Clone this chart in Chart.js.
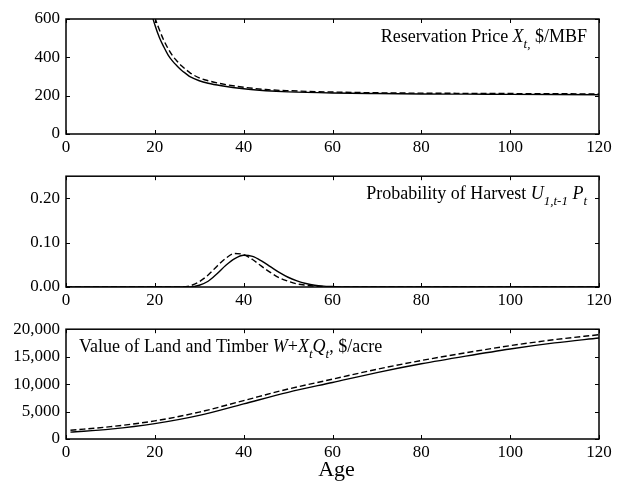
<!DOCTYPE html>
<html>
<head>
<meta charset="utf-8">
<script src="https://cdn.jsdelivr.net/npm/chart.js@4.4.1/dist/chart.umd.min.js"></script>
<style>
  body { margin: 0; background: #fff; }
  #wrap { position: relative; width: 618px; height: 483px; }
  canvas { position: absolute; left: 0; }
  #ageLabel {
    position: absolute; left: 70px; width: 533px; top: 456px;
    text-align: center; font: 22px "Liberation Serif", serif; line-height: 26px;
  }
</style>
</head>
<body>
<div id="wrap">
  <canvas id="c1" width="618" height="160" style="top:0"></canvas>
  <canvas id="c2" width="618" height="153" style="top:160px"></canvas>
  <canvas id="c3" width="618" height="152" style="top:313px"></canvas>
  <div id="ageLabel">Age</div>
</div>
<script>
// Reservation price X_t ($/MBF)
const priceAges   = [17, 18, 19, 20, 21, 22, 23, 24, 25, 26, 27, 28, 30, 32, 35, 40, 45, 50, 60, 70, 80, 90, 100, 110, 120];
const priceSolid  = [860, 740, 650, 570, 505, 455, 412, 380, 355, 333, 315, 298, 278, 265, 252, 236, 226, 220, 214, 211, 209, 208, 207, 206, 205];
const priceDashed = [930, 800, 700, 610, 545, 490, 445, 408, 380, 356, 336, 318, 293, 278, 262, 244, 232, 226, 219, 215, 213, 212, 211, 210, 209];

// Probability of harvest
const probAges   = [0, 24, 26, 28, 30, 32, 34, 36, 38, 40, 42, 44, 46, 48, 50, 52, 54, 56, 58, 60, 62, 70, 120];
const probSolid  = [0, 0, 0, 0, 0.004, 0.013, 0.030, 0.049, 0.064, 0.0715, 0.069, 0.059, 0.046, 0.033, 0.022, 0.014, 0.008, 0.004, 0.002, 0.001, 0, 0, 0];
const probDashed = [0, 0, 0, 0.003, 0.012, 0.027, 0.047, 0.065, 0.0755, 0.073, 0.062, 0.047, 0.033, 0.021, 0.013, 0.007, 0.004, 0.002, 0.001, 0, 0, 0, 0];

// Value of land and timber ($/acre)
const valueAges   = [1, 10, 20, 30, 40, 50, 60, 70, 80, 90, 100, 110, 120];
const valueSolid  = [1250, 1800, 2800, 4300, 6400, 8500, 10300, 12100, 13700, 15100, 16400, 17500, 18400];
const valueDashed = [1600, 2250, 3300, 4900, 7000, 9100, 10900, 12700, 14300, 15700, 17000, 18100, 19000];

const xTicks = [0, 20, 40, 60, 80, 100, 120];

const FONT = '"Liberation Serif", serif';

function pts(xs, ys) {
  return xs.map((x, i) => ({ x: x, y: ys[i] }));
}

// draws text with italic / subscript pieces
function drawRich(ctx, parts, x, y, align) {
  const size = 18;
  const widths = parts.map(p => {
    ctx.font = (p.i ? 'italic ' : '') + (p.s ? 13 : size) + 'px ' + FONT;
    return ctx.measureText(p.t).width;
  });
  const total = widths.reduce((a, b) => a + b, 0);
  let cx = align === 'right' ? x - total : x;
  ctx.fillStyle = '#000';
  ctx.textBaseline = 'alphabetic';
  ctx.textAlign = 'left';
  parts.forEach((p, k) => {
    ctx.font = (p.i ? 'italic ' : '') + (p.s ? 13 : size) + 'px ' + FONT;
    ctx.fillText(p.t, cx, p.s ? y + 6 : y);
    cx += widths[k];
  });
}

const frameTicks = {
  id: 'frameTicks',
  afterDatasetsDraw(chart, args, opts) {
    const { ctx, chartArea: a, scales } = chart;
    const x = scales.x, y = scales.y;
    ctx.save();
    ctx.strokeStyle = '#000';
    ctx.lineWidth = 1;
    ctx.beginPath();
    x.ticks.forEach(t => {
      const px = Math.round(x.getPixelForValue(t.value)) + 0.5;
      ctx.moveTo(px, a.bottom); ctx.lineTo(px, a.bottom - 4);
      ctx.moveTo(px, a.top); ctx.lineTo(px, a.top + 4);
    });
    y.ticks.forEach(t => {
      const py = Math.round(y.getPixelForValue(t.value)) + 0.5;
      ctx.moveTo(a.left, py); ctx.lineTo(a.left + 4, py);
      ctx.moveTo(a.right, py); ctx.lineTo(a.right - 4, py);
    });
    ctx.stroke();
    ctx.lineWidth = 1.5;
    ctx.strokeRect(a.left, a.top, a.right - a.left, a.bottom - a.top);
    if (opts.parts) {
      const tx = opts.align === 'right' ? a.right - opts.dx : a.left + opts.dx;
      drawRich(ctx, opts.parts, tx, a.top + opts.dy, opts.align);
    }
    ctx.restore();
  }
};

function makeChart(id, padTop, ages, solid, dashed, yMax, yStep, yLabel, note) {
  return new Chart(document.getElementById(id), {
    type: 'line',
    data: {
      datasets: [
        { data: pts(ages, solid), borderColor: '#000', borderWidth: 1.4, pointRadius: 0,
          cubicInterpolationMode: 'monotone', clip: 0 },
        { data: pts(ages, dashed), borderColor: '#000', borderWidth: 1.4, pointRadius: 0,
          borderDash: [6, 3], cubicInterpolationMode: 'monotone', clip: 0 }
      ]
    },
    options: {
      responsive: false,
      animation: false,
      layout: { padding: { top: padTop, right: 19, left: 0, bottom: 0 } },
      plugins: {
        legend: { display: false },
        tooltip: { enabled: false },
        frameTicks: note
      },
      scales: {
        x: {
          type: 'linear', min: 0, max: 120,
          afterBuildTicks: s => { s.ticks = xTicks.map(v => ({ value: v })); },
          afterFit: s => { s.height = 26; },
          grid: { display: false, drawTicks: false },
          border: { display: false },
          ticks: { color: '#000', padding: 3, maxRotation: 0, font: { family: FONT, size: 17 } }
        },
        y: {
          min: 0, max: yMax,
          afterFit: s => { s.width = 66; },
          grid: { display: false, drawTicks: false },
          border: { display: false },
          ticks: { stepSize: yStep, color: '#000', padding: 6, font: { family: FONT, size: 17 }, callback: yLabel }
        }
      }
    },
    plugins: [frameTicks]
  });
}

makeChart('c1', 19, priceAges, priceSolid, priceDashed, 600, 200,
  v => v.toString(),
  { parts: [{ t: 'Reservation Price ' }, { t: 'X', i: 1 }, { t: 't,', i: 1, s: 1 }, { t: ' $/MBF' }],
    align: 'right', dx: 12, dy: 22.5 });

makeChart('c2', 12, probAges, probSolid, probDashed, 0.25, 0.05,
  v => (Math.round(v * 100) % 10 === 0 ? v.toFixed(2) : ''),
  { parts: [{ t: 'Probability of Harvest ' }, { t: 'U', i: 1 }, { t: '1,t-1', i: 1, s: 1 }, { t: ' ' },
            { t: 'P', i: 1 }, { t: 't', i: 1, s: 1 }],
    align: 'right', dx: 12, dy: 23 });

makeChart('c3', 11, valueAges, valueSolid, valueDashed, 20000, 5000,
  v => v.toLocaleString('en-US'),
  { parts: [{ t: 'Value of Land and Timber ' }, { t: 'W', i: 1 }, { t: '+' }, { t: 'X', i: 1 }, { t: 't', i: 1, s: 1 },
            { t: 'Q', i: 1 }, { t: 't', i: 1, s: 1 }, { t: ', $/acre' }],
    align: 'left', dx: 13, dy: 22.5 });
</script>
</body>
</html>
